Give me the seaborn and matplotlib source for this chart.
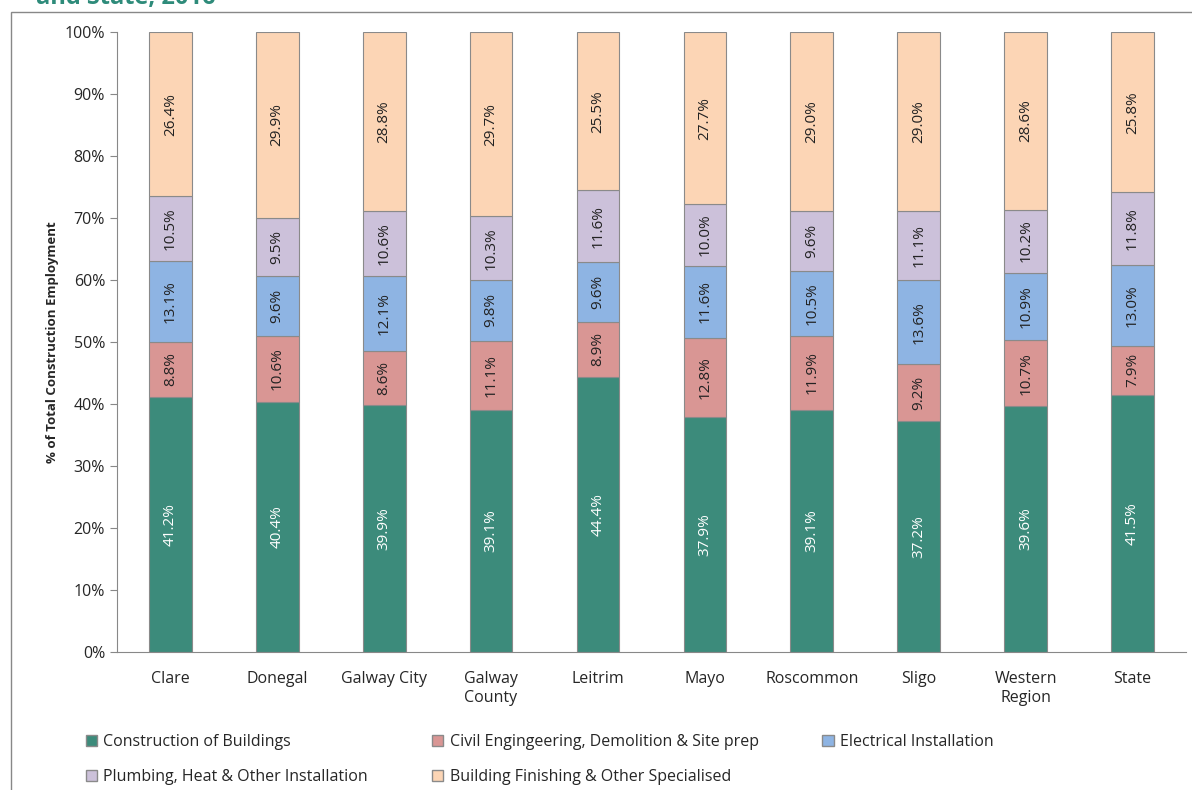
import matplotlib.pyplot as plt
import matplotlib.patches as mpatches
import seaborn as sns
import numpy as np

areas = ['Clare', 'Donegal', 'Galway City', 'Galway\nCounty', 'Leitrim', 'Mayo',
         'Roscommon', 'Sligo', 'Western\nRegion', 'State']
series = ['Construction of Buildings', 'Civil Engingeering, Demolition & Site prep',
          'Electrical Installation', 'Plumbing, Heat & Other Installation',
          'Building Finishing & Other Specialised']
buildings = [41.2, 40.4, 39.9, 39.1, 44.4, 37.9, 39.1, 37.2, 39.6, 41.5]
civil = [8.8, 10.6, 8.6, 11.1, 8.9, 12.8, 11.9, 9.2, 10.7, 7.9]
electrical = [13.1, 9.6, 12.1, 9.8, 9.6, 11.6, 10.5, 13.6, 10.9, 13.0]
plumbing = [10.5, 9.5, 10.6, 10.3, 11.6, 10.0, 9.6, 11.1, 10.2, 11.8]
finishing = [26.4, 29.9, 28.8, 29.7, 25.5, 27.7, 29.0, 29.0, 28.6, 25.8]
colors = ['#3C8B7B', '#D99694', '#8EB4E3', '#CCC1DA', '#FCD5B5']

sns.set_style('white')
plt.rcParams['font.family'] = ['Open Sans', 'DejaVu Sans']

fig = plt.figure(figsize=(11.92, 7.9), dpi=100)
ax = fig.add_axes([0.098, 0.175, 0.897, 0.784])

data = [buildings, civil, electrical, plumbing, finishing]
bottom = np.zeros(len(areas))
handles = []
for vals, name, col in zip(data, series, colors):
    sns.barplot(x=areas, y=vals, bottom=bottom, color=col, width=0.4, saturation=1,
                edgecolor='#8a8a8a', linewidth=0.8, ax=ax)
    for i, v in enumerate(vals):
        ax.text(i, bottom[i] + v / 2, f'{v:.1f}%', rotation=90, ha='center', va='center',
                fontsize=11, color='white' if col == colors[0] else '#222222')
    bottom = bottom + np.array(vals)
    handles.append(mpatches.Patch(facecolor=col, edgecolor='#8a8a8a', label=name))

ax.set_ylim(0, 100)
ax.set_xlim(-0.5, len(areas) - 0.5)
ax.set_yticks(range(0, 101, 10))
ax.set_yticklabels([f'{t}%' for t in range(0, 101, 10)], fontsize=11.5)
ax.tick_params(axis='x', labelsize=11.5, length=0, pad=14)
ax.set_xticks(np.arange(len(areas) + 1) - 0.5, minor=True)
ax.tick_params(axis='x', which='minor', length=6, color='#888888', direction='out')
ax.tick_params(axis='y', length=5, color='#888888', direction='out', left=True)
ax.set_ylabel('% of Total Construction Employment', fontsize=9.5, fontweight='bold')
for s in ['top', 'right']:
    ax.spines[s].set_visible(False)
for s in ['left', 'bottom']:
    ax.spines[s].set_color('#888888')

order = [0, 3, 1, 4, 2]
fig.legend([handles[i] for i in order], [series[i] for i in order], ncol=3,
           loc='lower left', bbox_to_anchor=(0.06, -0.012), frameon=False, fontsize=11.5,
           handlelength=0.7, handleheight=0.7, columnspacing=4.0, handletextpad=0.4,
           labelspacing=1.2)

fig.add_artist(mpatches.Rectangle((0.009, -0.01), 1.0, 0.995, transform=fig.transFigure,
                                  fill=False, edgecolor='#888888', linewidth=1))
fig.text(0.03, 1.003, 'and State, 2016', fontsize=17, fontweight='bold', color='#2E8B7A',
         va='center', ha='left')

fig.savefig('out.png', dpi=100)
